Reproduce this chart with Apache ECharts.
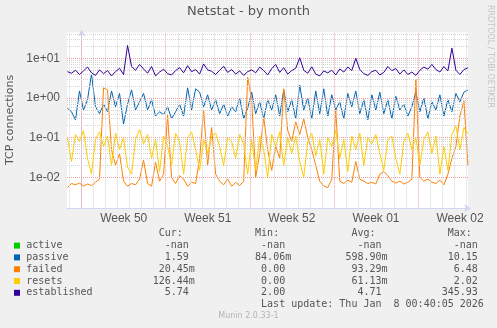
<!DOCTYPE html>
<html>
<head>
<meta charset="utf-8">
<script src="https://cdn.jsdelivr.net/npm/echarts@6/dist/echarts.min.js"></script>
<style>
  html, body { margin: 0; padding: 0; background: #f0f0f0; }
  #chart { width: 497px; height: 328px; }
</style>
</head>
<body>
<div id="chart"></div>
<script>
// Netstat TCP connection rates, monthly view (8-hour averages).
// x is measured in days relative to Monday 8 Dec 2025 00:00.
const startDay = -1.18;
const stepDay = 1 / 3;
const xMin = -1.22;
const xMax = 32.16;

const weekStarts = [0, 7, 14, 21, 28];
const weekLabels = ['Week 50', 'Week 51', 'Week 52', 'Week 01', 'Week 02'];

const passive = [
  0.55, 0.45, 0.28, 1.5, 0.5, 0.9, 4.0, 0.6, 0.4, 0.7, 0.45, 1.5, 0.6, 1.3, 0.22, 0.7, 1.6, 0.5, 0.8, 1.3,
  0.5, 0.9, 0.35, 0.45, 0.38, 0.6, 0.3, 0.45, 0.7, 0.35, 1.8, 0.5, 1.7, 1.4, 0.6, 1.2, 0.5, 0.9, 0.4, 0.7,
  0.35, 0.6, 0.45, 1.0, 0.3, 0.55, 1.4, 0.4, 0.8, 0.3, 0.9, 0.5, 1.2, 0.35, 1.6, 0.45, 0.9, 0.3, 2.1, 0.5,
  1.0, 0.3, 1.5, 0.4, 1.7, 0.35, 1.2, 0.5, 0.8, 0.3, 1.3, 0.6, 1.5, 0.4, 0.9, 0.28, 1.2, 0.5, 1.4, 0.4,
  0.9, 0.3, 1.1, 0.5, 0.7, 0.35, 0.6, 1.4, 0.45, 1.0, 0.3, 0.8, 0.5, 1.2, 0.35, 0.9, 0.45, 1.3, 0.8, 1.4,
  1.59
];
const failed = [
  0.0055, 0.007, 0.0065, 0.0072, 0.006, 0.0068, 0.0062, 0.0075, 0.009, 1.8, 1.6, 0.05, 0.02, 0.04, 0.008, 0.006, 0.007, 0.0065, 0.009, 0.027,
  0.007, 0.006, 0.024, 0.008, 0.012, 0.37, 0.01, 0.007, 0.011, 0.009, 0.006, 0.0075, 0.007, 0.03, 0.5, 0.02, 0.18, 0.012, 0.008, 0.0065,
  0.009, 0.006, 0.0075, 0.0062, 0.008, 3.3, 0.9, 0.01, 0.04, 0.33, 0.05, 0.015, 0.06, 0.03, 1.7, 0.15, 0.08, 0.25, 0.12, 0.3,
  0.1, 0.05, 0.02, 0.008, 0.006, 0.0055, 0.009, 0.5, 0.008, 0.007, 0.0085, 0.0075, 0.025, 0.009, 0.008, 0.007, 0.0075, 0.0068, 0.012, 0.014,
  0.011, 0.008, 0.0072, 0.008, 0.0068, 0.0075, 0.009, 3.0, 0.01, 0.008, 0.009, 0.0075, 0.007, 0.0085, 0.0065, 0.012, 0.03, 0.06, 0.35, 0.85,
  0.02045
];
const resets = [
  0.1, 0.025, 0.12, 0.08, 0.15, 0.03, 0.012, 0.09, 0.14, 0.06, 0.11, 0.02, 0.13, 0.05, 0.1, 0.018, 0.012, 0.09, 0.16, 0.07,
  0.12, 0.03, 0.09, 0.014, 0.11, 0.06, 0.02, 0.13, 0.08, 0.012, 0.1, 0.14, 0.05, 0.015, 0.09, 0.04, 0.11, 0.13, 0.06, 0.02,
  0.1, 0.08, 0.03, 0.12, 0.07, 0.012, 0.09, 0.015, 0.11, 0.05, 0.01, 0.12, 0.06, 0.14, 0.02, 0.1, 0.04, 0.11, 0.025, 0.01,
  0.08, 0.13, 0.035, 0.09, 0.012, 0.1, 0.06, 0.15, 0.03, 0.09, 0.014, 0.11, 0.05, 0.13, 0.02, 0.1, 0.07, 0.12, 0.04, 0.015,
  0.09, 0.11, 0.03, 0.012, 0.08, 0.13, 0.05, 0.1, 0.02, 0.09, 0.14, 0.04, 0.11, 0.012, 0.06, 0.015, 0.12, 0.2, 0.05, 0.18,
  0.12644
];
const established = [
  4.6, 4.2, 5.0, 3.9, 4.8, 6.0, 4.3, 3.7, 5.1, 4.1, 4.9, 3.6, 4.6, 5.6, 3.9, 21, 6.2, 5.0, 7.0, 5.4,
  4.2, 6.2, 3.6, 4.5, 5.3, 4.1, 3.8, 4.9, 5.8, 4.3, 6.5, 4.6, 5.2, 4.0, 7.2, 5.1, 4.7, 3.9, 5.0, 6.3,
  4.4, 5.2, 4.0, 4.8, 3.7, 4.6, 5.1, 4.3, 6.0, 4.9, 3.8, 5.5, 7.0, 4.4, 5.8, 4.0, 4.9, 5.6, 10.3, 5.0,
  4.2, 6.1, 4.0, 3.6, 4.8, 4.3, 5.0, 3.8, 5.4, 4.5, 6.0, 4.9, 10.0, 5.2, 4.1, 3.7, 4.6, 5.0, 3.8, 4.4,
  6.2, 4.9, 5.5, 4.0, 5.1, 3.9, 4.5, 3.7, 5.0, 6.0, 5.3, 7.0, 5.2, 4.5, 6.2, 4.8, 18, 5.0, 3.9, 5.2,
  5.74
];

const legendNames = ['active', 'passive', 'failed', 'resets', 'established'];
const legendColors = ['#00cc00', '#0066b3', '#ff8000', '#ffcc00', '#330099'];
const minText = ['-nan', '84.06m', '0.00', '0.00', '2.00'];
const avgText = ['-nan', '598.90m', '93.29m', '61.13m', '4.71'];
const maxText = ['-nan', '10.15', '6.48', '2.02', '345.93'];
const lastUpdate = 'Last update: Thu Jan  8 00:40:05 2026';

const seriesValues = [null, passive, failed, resets, established];

// rrdtool-style "%6.2lf%s" formatting of the current (last) value
function siText(v) {
  if (v == null) return '-nan';
  return v < 1 ? (v * 1000).toFixed(2) + 'm' : v.toFixed(2);
}
function field(s) {
  let num = s, unit = ' ';
  if (s.endsWith('m')) { num = s.slice(0, -1); unit = 'm'; }
  return num.padStart(6) + unit;
}
const curText = seriesValues.map(a => siText(a ? a[a.length - 1] : null));

function toPairs(arr) {
  return arr.map((v, i) => [startDay + i * stepDay, v]);
}

// grid lines: days (gray) and week starts (red); log minor/major decades
const minorStyle = { color: '#d4d4d4', width: 1, type: [1, 1] };
const majorStyle = { color: '#f2a0a0', width: 1, type: [1, 1] };
const gridLines = [];
for (let d = -1; d <= 32; d++) {
  gridLines.push({ xAxis: d, lineStyle: weekStarts.includes(d) ? majorStyle : minorStyle });
}
const yMin = 0.00166, yMax = 44.6;
for (let e = -3; e <= 1; e++) {
  for (let k = 1; k <= 9; k++) {
    const v = k * Math.pow(10, e);
    if (v < yMin || v > yMax) continue;
    gridLines.push({ yAxis: v, lineStyle: k === 1 ? majorStyle : minorStyle });
  }
}

const chart = echarts.init(document.getElementById('chart'), null, { renderer: 'canvas' });

const series = [{
  name: 'grid',
  type: 'line',
  data: [],
  z: 1,
  silent: true,
  markLine: {
    silent: true,
    symbol: ['none', 'none'],
    label: { show: false },
    animation: false,
    data: gridLines
  }
}];
[1, 2, 3, 4].forEach(idx => {
  series.push({
    name: legendNames[idx],
    type: 'line',
    data: toPairs(seriesValues[idx]),
    showSymbol: false,
    symbol: 'none',
    z: 2 + idx,
    lineStyle: { color: legendColors[idx], width: 1 },
    animation: false
  });
});

const mono = '"DejaVu Sans Mono", monospace';
const sans = '"DejaVu Sans", sans-serif';
const textColor = '#555555';

const graphics = [
  { type: 'text', left: 'center', top: 5, style: { text: 'Netstat - by month', font: '13px ' + sans, fill: textColor } },
  { type: 'text', x: 5, y: 120, rotation: Math.PI / 2,
    style: { text: 'TCP connections', font: '11px ' + sans, fill: textColor, textAlign: 'center', textVerticalAlign: 'top' } },
  { type: 'text', x: 486, y: 5, rotation: -Math.PI / 2,
    style: { text: 'RRDTOOL / TOBI OETIKER', font: '8px ' + sans, fill: '#c4c4c4', textAlign: 'left', textVerticalAlign: 'bottom' } }
];

const charW = 6.02;
const textX = 26.3;
const rowY0 = 233.8;
const rowStep = 11.8;
const header = ' '.repeat(22) + 'Cur:' + ' '.repeat(12) + 'Min:' + ' '.repeat(12) + 'Avg:' + ' '.repeat(12) + 'Max:';
graphics.push({ type: 'text', x: textX, y: rowY0,
  style: { text: header, font: '10px ' + mono, fill: textColor, textVerticalAlign: 'middle' } });
legendNames.forEach((name, i) => {
  const y = rowY0 + rowStep * (i + 1);
  graphics.push({ type: 'rect', shape: { x: 14, y: y - 3, width: 6, height: 6 }, style: { fill: legendColors[i] } });
  const row = name.padEnd(21) + field(curText[i]) + ' '.repeat(9) + field(minText[i]) +
    ' '.repeat(9) + field(avgText[i]) + ' '.repeat(9) + field(maxText[i]);
  graphics.push({ type: 'text', x: textX, y: y,
    style: { text: row, font: '10px ' + mono, fill: textColor, textVerticalAlign: 'middle' } });
});
graphics.push({ type: 'text', x: textX + 39 * charW, y: rowY0 + rowStep * 6,
  style: { text: lastUpdate, font: '10px ' + mono, fill: textColor, textVerticalAlign: 'middle' } });
graphics.push({ type: 'text', left: 'center', top: 312,
  style: { text: 'Munin 2.0.33-1', font: '8px ' + sans, fill: '#b4b4b4' } });

chart.setOption({
  backgroundColor: '#f0f0f0',
  animation: false,
  grid: {
    left: 67, right: 29, top: 32.5, bottom: 119.7,
    show: true, backgroundColor: '#ffffff', borderWidth: 0
  },
  xAxis: {
    type: 'value',
    min: xMin,
    max: xMax,
    axisLine: {
      show: true,
      lineStyle: { color: '#cfd6f8', width: 1 },
      symbol: ['none', 'arrow'],
      symbolSize: [6, 7],
      symbolOffset: [0, 3]
    },
    axisTick: { show: false },
    splitLine: { show: false },
    axisLabel: {
      customValues: weekStarts.map(d => d + 3.5),
      formatter: v => weekLabels[weekStarts.indexOf(Math.round(v - 3.5))] || '',
      font: '10px ' + mono,
      color: textColor,
      margin: 4
    }
  },
  yAxis: {
    type: 'log',
    logBase: 10,
    min: yMin,
    max: yMax,
    axisLine: {
      show: true,
      lineStyle: { color: '#cfd6f8', width: 1 },
      symbol: ['none', 'arrow'],
      symbolSize: [6, 7],
      symbolOffset: [0, 3]
    },
    axisTick: { show: false },
    splitLine: { show: false },
    axisLabel: {
      customValues: [0.01, 0.1, 1, 10],
      formatter: v => {
        const e = Math.round(Math.log10(v));
        return '1e' + (e < 0 ? '-' : '+') + String(Math.abs(e)).padStart(2, '0');
      },
      font: '10px ' + mono,
      color: textColor,
      margin: 7
    }
  },
  series: series,
  graphic: graphics
});
</script>
</body>
</html>
